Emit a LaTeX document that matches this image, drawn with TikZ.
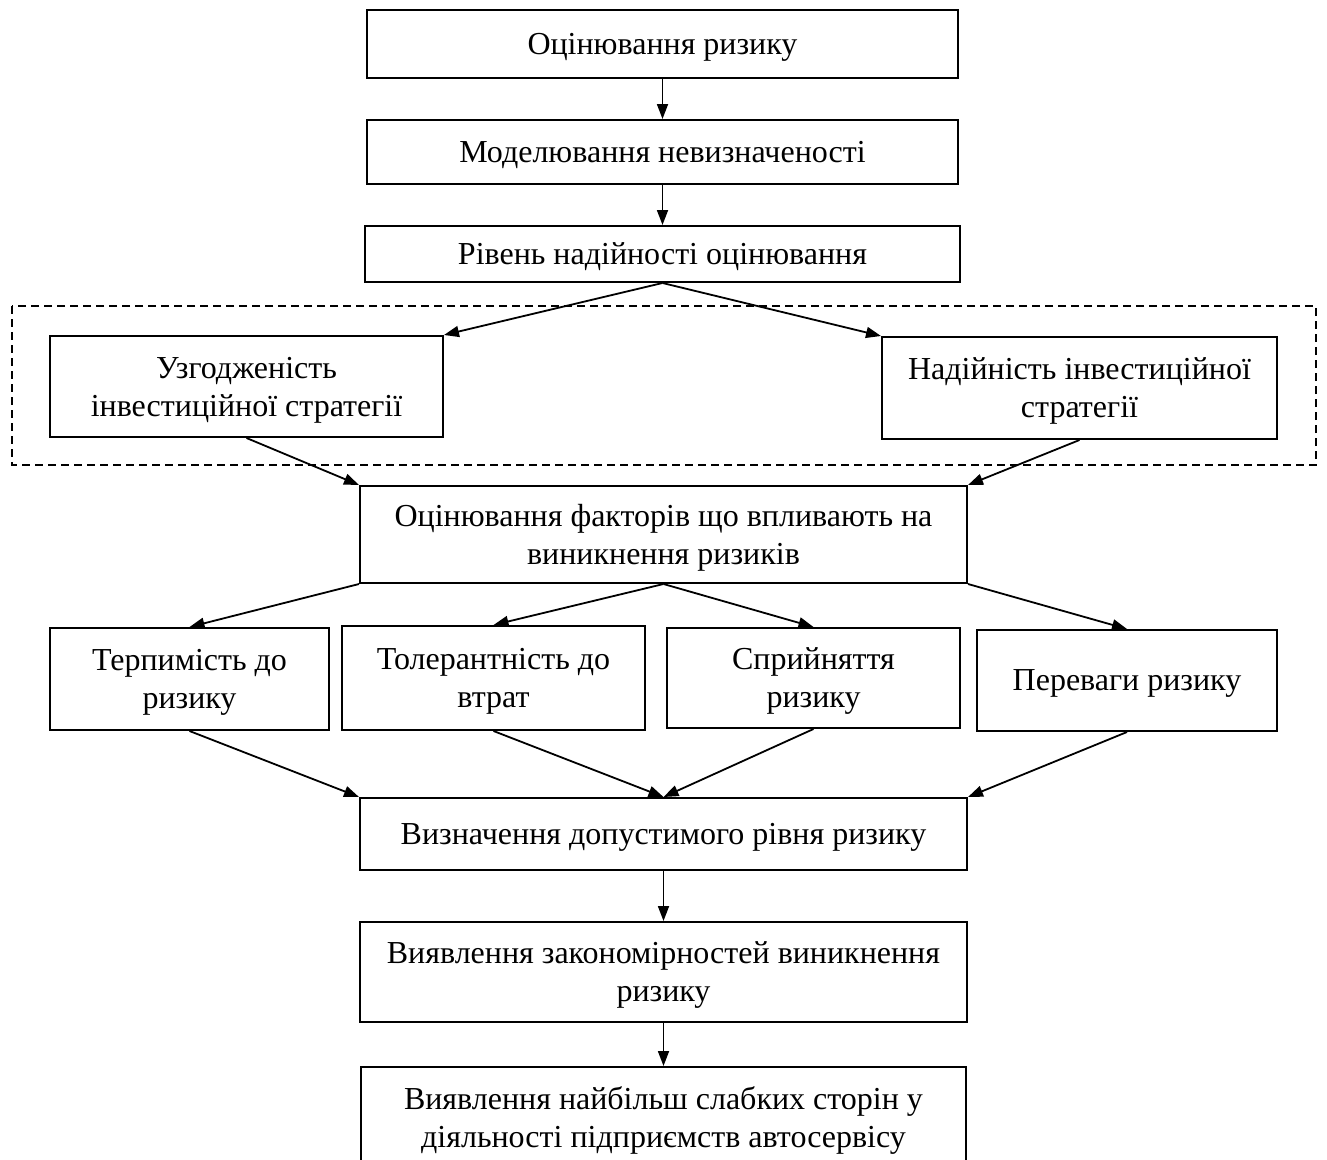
\documentclass[tikz,border=0pt]{standalone}
\usepackage{fontspec}
\setmainfont{Liberation Serif}
\usetikzlibrary{arrows.meta, calc}
\newcommand{\conn}[2]{% arrow from one block to the next
  \draw [-{Triangle[length=15pt, width=11pt]}] (#1) -- (#2);
  }

\begin{document}
\begin{tikzpicture}[
  x=1pt, y=-1pt,
  line width=1.8pt,
  block/.style={
    % The shape:
    rectangle,
    % The border:
    draw, line width=2pt,
    % Text
    align=center,
    font=\fontsize{32}{38}\selectfont,
    text depth=0pt,
    % padding
    inner sep=0pt
  },
  ]
  \useasboundingbox (0,0) rectangle (1327,1159);
  \clip (0,0) rectangle (1327,1159);

  % main column, top part
  \node (ocin) [block, minimum width=591pt, minimum height=68pt] at (662.5,44) {Оцінювання ризику};
  \node (model) [block, minimum width=591pt, minimum height=64pt] at (662.5,152) {Моделювання невизначеності};
  \node (riv) [block, minimum width=595pt, minimum height=56pt] at (662.5,254) {Рівень надійності оцінювання};

  % strategy pair inside the dashed frame
  \draw [dash pattern=on 8pt off 5pt, line width=1.5pt] (12,306) rectangle (1316,465);
  \node (uzg) [block, minimum width=393pt, minimum height=101pt] at (246.5,386.5) {Узгодженість\\інвестиційної стратегії};
  \node (nad) [block, minimum width=395pt, minimum height=102pt] at (1079.5,388) {Надійність інвестиційної\\стратегії};

  \node (fakt) [block, minimum width=607pt, minimum height=97pt] at (663.5,534.5) {Оцінювання факторів що впливають на\\виникнення ризиків};

  % row of four factors
  \foreach \n/\x/\y/\w/\h/\t in {terp/189.5/679/279/102/{Терпимість до\\ризику},
                                 tol/493.5/678/303/104/{Толерантність до\\втрат},
                                 spr/813.5/678/293/100/{Сприйняття\\ризику},
                                 per/1127/680.5/300/101/{Переваги ризику}}
  {
    \node (\n) [block, minimum width=\w pt, minimum height=\h pt] at (\x,\y) {\t};
  }

  % main column, bottom part
  \node (vyzn) [block, minimum width=607pt, minimum height=72pt] at (663.5,834) {Визначення допустимого рівня ризику};
  \node (zak) [block, minimum width=607pt, minimum height=100pt] at (663.5,972) {Виявлення закономірностей виникнення\\ризику};
  \node (slab) [block, minimum width=605pt, minimum height=100pt] at (663.5,1117) {Виявлення найбільш слабких сторін у\\діяльності підприємств автосервісу};

  % straight arrows down the column
  \foreach \i/\j in {ocin/model, model/riv, vyzn/zak, zak/slab}
  {
    \conn{\i.south}{\j.north}
  }

  % slanted arrows
  \foreach \i/\j in {riv.south/uzg.north east, riv.south/nad.north west,
                     uzg.south/fakt.north west, nad.south/fakt.north east,
                     fakt.south west/terp.north, fakt.south/tol.north,
                     fakt.south/spr.north, fakt.south east/per.north,
                     terp.south/vyzn.north west, tol.south/vyzn.north,
                     spr.south/vyzn.north, per.south/vyzn.north east}
  {
    \conn{\i}{\j}
  }

\end{tikzpicture}
\end{document}
